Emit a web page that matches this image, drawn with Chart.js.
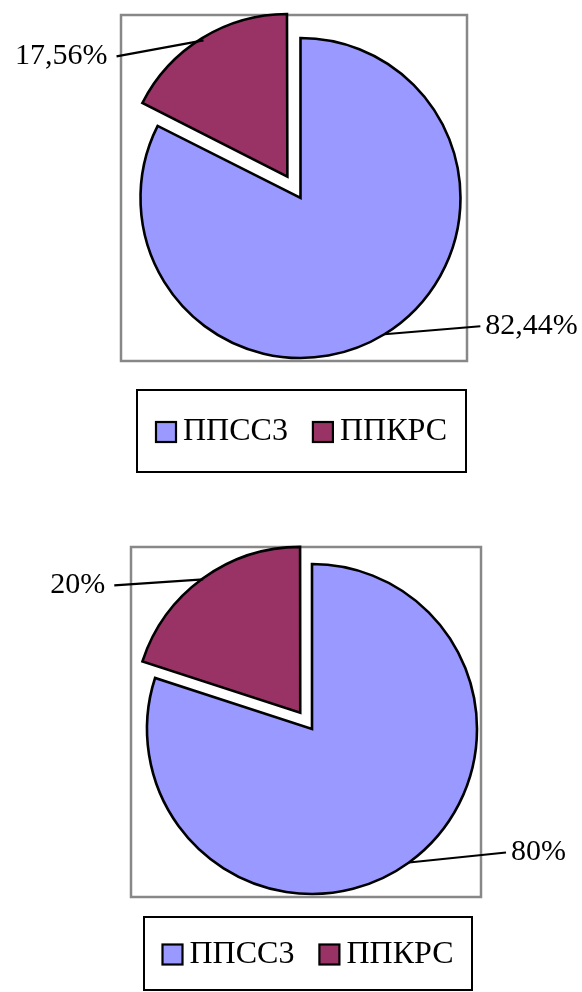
<!DOCTYPE html>
<html>
<head>
<meta charset="utf-8">
<script src="https://cdn.jsdelivr.net/npm/chart.js@4"></script>
<style>
  html, body { margin: 0; padding: 0; background: #fff; }
  .wrap { position: absolute; left: 0; width: 582px; height: 496px; }
</style>
</head>
<body>
<div class="wrap" style="top:0"><canvas id="chart1"></canvas></div>
<div class="wrap" style="top:496px"><canvas id="chart2"></canvas></div>
<script>
const categories = ["ППСС3", "ППКРС"];
const values1 = [82.44, 17.56];
const values2 = [80, 20];

const colors = ["#9999FF", "#993366"];
const FONT = "'Liberation Serif', 'Times New Roman', serif";

const formatPct = (v) => String(v).replace(".", ",") + "%";

// frame, legend box and leader lines drawn around the pie
const decorPlugin = {
  id: "decor",
  beforeDatasetsDraw(chart, args, opts) {
    const ctx = chart.ctx;
    const f = opts.frame;
    ctx.save();
    ctx.strokeStyle = "#888888";
    ctx.lineWidth = 2.5;
    ctx.strokeRect(f.x, f.y, f.w, f.h);
    ctx.restore();
  },
  afterDatasetsDraw(chart, args, opts) {
    const ctx = chart.ctx;
    const meta = chart.getDatasetMeta(0);
    const data = chart.data.datasets[0].data;

    ctx.save();
    ctx.font = "30px " + FONT;
    ctx.fillStyle = "#000";
    ctx.strokeStyle = "#000";
    ctx.lineWidth = 2.2;
    ctx.textBaseline = "middle";

    meta.data.forEach((arc, i) => {
      const mid = (arc.startAngle + arc.endAngle) / 2;
      const shift = (arc.options.offset || 0) / 4;
      const r = arc.outerRadius;
      const ax = arc.x + Math.cos(mid) * (shift + r);
      const ay = arc.y + Math.sin(mid) * (shift + r);
      const lead = opts.leaders[i];
      const ex = ax + lead.dx;
      const ey = ay + lead.dy;

      ctx.beginPath();
      ctx.moveTo(ax, ay);
      ctx.lineTo(ex, ey);
      ctx.stroke();

      const left = lead.dx < 0;
      ctx.textAlign = left ? "right" : "left";
      ctx.fillText(formatPct(data[i]), ex + (left ? -9 : 5), ey);
    });

    // legend
    const lb = opts.legendBox;
    ctx.lineWidth = 2;
    ctx.strokeRect(lb.x, lb.y, lb.w, lb.h);

    ctx.font = "32px " + FONT;
    const sq = 20, gapText = 7, gapItem = 25;
    const widths = chart.data.labels.map((t) => ctx.measureText(t).width);
    let total = 0;
    widths.forEach((w, i) => { total += sq + gapText + w + (i ? gapItem : 0); });
    let x = lb.x + (lb.w - total) / 2;
    const cy = lb.y + lb.h / 2 + 1;
    ctx.textAlign = "left";
    ctx.lineWidth = 2.2;
    chart.data.labels.forEach((t, i) => {
      ctx.fillStyle = colors[i];
      ctx.fillRect(x, cy - sq / 2, sq, sq);
      ctx.strokeRect(x, cy - sq / 2, sq, sq);
      ctx.fillStyle = "#000";
      ctx.fillText(t, x + sq + gapText, cy);
      x += sq + gapText + widths[i] + gapItem;
    });
    ctx.restore();
  }
};

const makePie = (id, values, radius, explode, padding, decor) => {
  const ctx = document.getElementById(id).getContext("2d");
  return new Chart(ctx, {
    type: "pie",
    data: {
      labels: categories,
      datasets: [{
        data: values,
        backgroundColor: colors,
        borderColor: "#000",
        borderWidth: 2.6,
        borderJoinStyle: "miter",
        offset: [0, explode],
      }],
    },
    options: {
      responsive: true,
      maintainAspectRatio: false,
      animation: false,
      radius: radius,
      layout: { padding: padding },
      plugins: {
        legend: { display: false },
        tooltip: { enabled: false },
        decor: decor,
      },
    },
    plugins: [decorPlugin],
  });
};

makePie("chart1", values1, 160, 100,
  { left: 140, right: 121, top: 38, bottom: 138 },
  {
    frame: { x: 121, y: 15, w: 346, h: 346 },
    legendBox: { x: 137, y: 390, w: 329, h: 82 },
    leaders: [{ dx: 96, dy: -8 }, { dx: -87, dy: 16 }],
  });

makePie("chart2", values2, 165, 80,
  { left: 147, right: 105, top: 69, bottom: 99 },
  {
    frame: { x: 131, y: 51, w: 350, h: 350 },
    legendBox: { x: 144, y: 421, w: 328, h: 73 },
    leaders: [{ dx: 97, dy: -10 }, { dx: -89, dy: 6 }],
  });
</script>
</body>
</html>
